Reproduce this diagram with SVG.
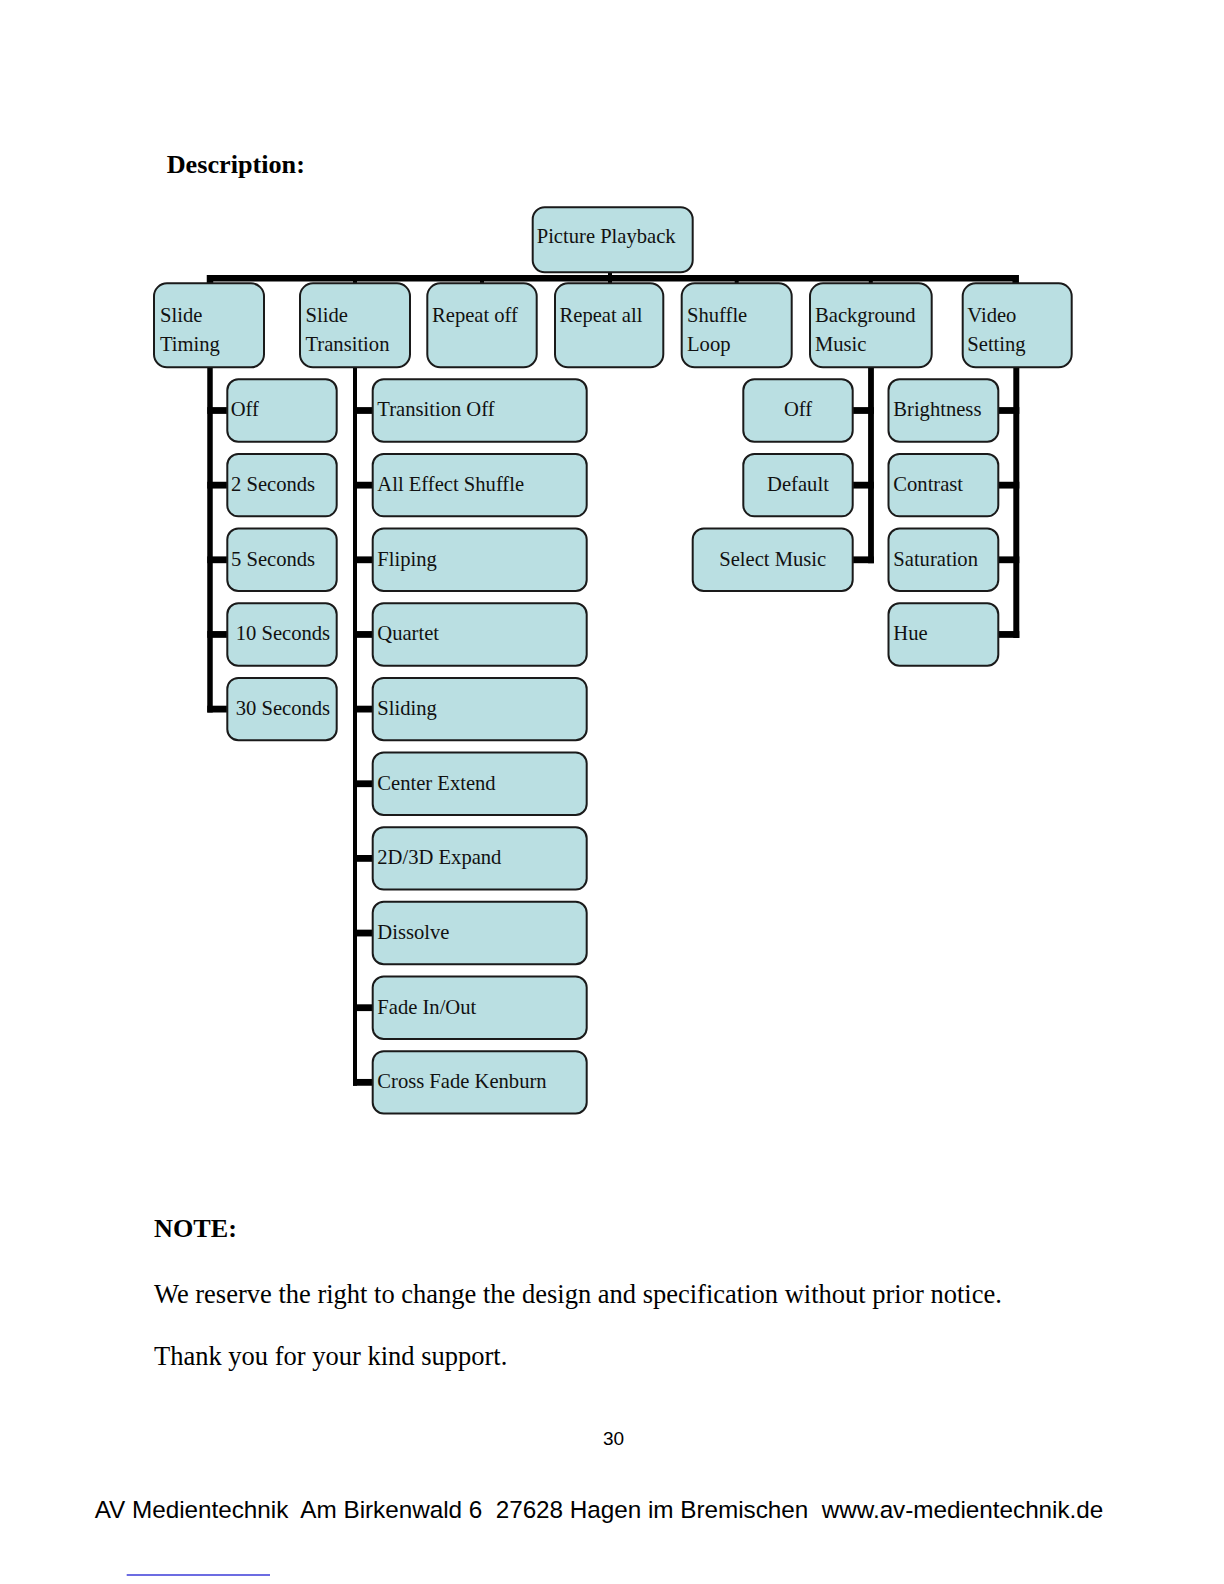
<svg xmlns="http://www.w3.org/2000/svg" width="1224" height="1584" viewBox="0 0 1224 1584">
<style>
.box{fill:#badfe2;stroke:#1a1a1a;stroke-width:2}
.t{font-family:"Liberation Serif","Times New Roman",serif;font-size:20.6px;fill:#111}
.c{text-anchor:middle}
.cn{stroke:#000;fill:none;stroke-linecap:butt}
.h{font-family:"Liberation Serif","Times New Roman",serif;font-weight:bold;font-size:26.2px;fill:#000}
.p{font-family:"Liberation Serif","Times New Roman",serif;font-size:26.5px;fill:#000}
.s{font-family:"Liberation Sans",Arial,sans-serif;fill:#000;white-space:pre}
</style>
<rect x="0" y="0" width="1224" height="1584" fill="#fff"/>
<text class="h" x="166.7" y="173.3">Description:</text>

<g id="connectors" class="cn">
  <path d="M210 284 V278.3 H1015.7 V284" stroke-width="6.5" stroke-linejoin="miter"/>
  <line x1="610" y1="272" x2="610" y2="284" stroke-width="4"/>
  <line x1="355" y1="278" x2="355" y2="284" stroke-width="4"/>
  <line x1="482" y1="278" x2="482" y2="284" stroke-width="4"/>
  <line x1="736.7" y1="278" x2="736.7" y2="284" stroke-width="4"/>
  <line x1="870.8" y1="278" x2="870.8" y2="284" stroke-width="4"/>
  <!-- Slide Timing -->
  <line x1="210" y1="367" x2="210" y2="712.4" stroke-width="5.5"/>
  <g stroke-width="6.8">
    <line x1="207.3" y1="410.5" x2="227.3" y2="410.5"/>
    <line x1="207.3" y1="485.15" x2="227.3" y2="485.15"/>
    <line x1="207.3" y1="559.8" x2="227.3" y2="559.8"/>
    <line x1="207.3" y1="634.45" x2="227.3" y2="634.45"/>
    <line x1="207.3" y1="709.1" x2="227.3" y2="709.1"/>
  </g>
  <!-- Slide Transition -->
  <line x1="355" y1="367" x2="355" y2="1085.7" stroke-width="4"/>
  <g stroke-width="6.8">
    <line x1="353" y1="410.5" x2="372.7" y2="410.5"/>
    <line x1="353" y1="485.15" x2="372.7" y2="485.15"/>
    <line x1="353" y1="559.8" x2="372.7" y2="559.8"/>
    <line x1="353" y1="634.45" x2="372.7" y2="634.45"/>
    <line x1="353" y1="709.1" x2="372.7" y2="709.1"/>
    <line x1="353" y1="783.75" x2="372.7" y2="783.75"/>
    <line x1="353" y1="858.4" x2="372.7" y2="858.4"/>
    <line x1="353" y1="933.05" x2="372.7" y2="933.05"/>
    <line x1="353" y1="1007.7" x2="372.7" y2="1007.7"/>
    <line x1="353" y1="1082.35" x2="372.7" y2="1082.35"/>
  </g>
  <!-- Background Music -->
  <line x1="871" y1="367" x2="871" y2="563.2" stroke-width="5.8"/>
  <g stroke-width="6.8">
    <line x1="852.7" y1="410.5" x2="873.9" y2="410.5"/>
    <line x1="852.7" y1="485.15" x2="873.9" y2="485.15"/>
    <line x1="852.7" y1="559.8" x2="873.9" y2="559.8"/>
  </g>
  <!-- Video Setting -->
  <line x1="1016.3" y1="367" x2="1016.3" y2="637.9" stroke-width="6"/>
  <g stroke-width="6.8">
    <line x1="998.3" y1="410.5" x2="1019.3" y2="410.5"/>
    <line x1="998.3" y1="485.15" x2="1019.3" y2="485.15"/>
    <line x1="998.3" y1="559.8" x2="1019.3" y2="559.8"/>
    <line x1="998.3" y1="634.45" x2="1019.3" y2="634.45"/>
  </g>
</g>

<g id="picture-playback"><rect class="box" x="532.7" y="207.3" width="160" height="65" rx="12"/><text class="t" x="536.7" y="243.3">Picture Playback</text></g>

<g id="slide-timing"><rect class="box" x="154" y="283.3" width="110" height="84" rx="13"/><text class="t" x="160" y="321.7">Slide</text><text class="t" x="160" y="350.5">Timing</text></g>
<g id="slide-transition"><rect class="box" x="300" y="283.3" width="110" height="84" rx="13"/><text class="t" x="305.5" y="321.7">Slide</text><text class="t" x="305.5" y="350.5">Transition</text></g>
<g id="repeat-off"><rect class="box" x="427.3" y="283.3" width="109.4" height="84" rx="13"/><text class="t" x="432" y="321.7">Repeat off</text></g>
<g id="repeat-all"><rect class="box" x="555" y="283.3" width="108.3" height="84" rx="13"/><text class="t" x="559.5" y="321.7">Repeat all</text></g>
<g id="shuffle-loop"><rect class="box" x="681.7" y="283.3" width="110" height="84" rx="13"/><text class="t" x="687" y="321.7">Shuffle</text><text class="t" x="687" y="350.5">Loop</text></g>
<g id="background-music"><rect class="box" x="810" y="283.3" width="121.7" height="84" rx="13"/><text class="t" x="815" y="321.7">Background</text><text class="t" x="815" y="350.5">Music</text></g>
<g id="video-setting"><rect class="box" x="962.7" y="283.3" width="109" height="84" rx="13"/><text class="t" x="967.3" y="321.7">Video</text><text class="t" x="967.3" y="350.5">Setting</text></g>

<g id="st-off"><rect class="box" x="227.3" y="379.3" width="109.4" height="62.4" rx="11"/><text class="t" x="230.7" y="416.3">Off</text></g>
<g id="st-2s"><rect class="box" x="227.3" y="453.95" width="109.4" height="62.4" rx="11"/><text class="t" x="231" y="490.95">2 Seconds</text></g>
<g id="st-5s"><rect class="box" x="227.3" y="528.6" width="109.4" height="62.4" rx="11"/><text class="t" x="231" y="565.6">5 Seconds</text></g>
<g id="st-10s"><rect class="box" x="227.3" y="603.25" width="109.4" height="62.4" rx="11"/><text class="t" x="235.7" y="640.25">10 Seconds</text></g>
<g id="st-30s"><rect class="box" x="227.3" y="677.9" width="109.4" height="62.4" rx="11"/><text class="t" x="235.7" y="714.9">30 Seconds</text></g>

<g id="tr-off"><rect class="box" x="372.7" y="379.3" width="214" height="62.4" rx="11"/><text class="t" x="377.3" y="416.3">Transition Off</text></g>
<g id="tr-shuffle"><rect class="box" x="372.7" y="453.95" width="214" height="62.4" rx="11"/><text class="t" x="377.3" y="490.95">All Effect Shuffle</text></g>
<g id="tr-fliping"><rect class="box" x="372.7" y="528.6" width="214" height="62.4" rx="11"/><text class="t" x="377.3" y="565.6">Fliping</text></g>
<g id="tr-quartet"><rect class="box" x="372.7" y="603.25" width="214" height="62.4" rx="11"/><text class="t" x="377.3" y="640.25">Quartet</text></g>
<g id="tr-sliding"><rect class="box" x="372.7" y="677.9" width="214" height="62.4" rx="11"/><text class="t" x="377.3" y="714.9">Sliding</text></g>
<g id="tr-center"><rect class="box" x="372.7" y="752.55" width="214" height="62.4" rx="11"/><text class="t" x="377.3" y="789.55">Center Extend</text></g>
<g id="tr-expand"><rect class="box" x="372.7" y="827.2" width="214" height="62.4" rx="11"/><text class="t" x="377.3" y="864.2">2D/3D Expand</text></g>
<g id="tr-dissolve"><rect class="box" x="372.7" y="901.85" width="214" height="62.4" rx="11"/><text class="t" x="377.3" y="938.85">Dissolve</text></g>
<g id="tr-fade"><rect class="box" x="372.7" y="976.5" width="214" height="62.4" rx="11"/><text class="t" x="377.3" y="1013.5">Fade In/Out</text></g>
<g id="tr-kenburn"><rect class="box" x="372.7" y="1051.15" width="214" height="62.4" rx="11"/><text class="t" x="377.3" y="1088.15">Cross Fade Kenburn</text></g>

<g id="bm-off"><rect class="box" x="743.3" y="379.3" width="109.4" height="62.4" rx="11"/><text class="t c" x="798" y="416.3">Off</text></g>
<g id="bm-default"><rect class="box" x="743.3" y="453.95" width="109.4" height="62.4" rx="11"/><text class="t c" x="798" y="490.95">Default</text></g>
<g id="bm-select"><rect class="box" x="692.7" y="528.6" width="160" height="62.4" rx="11"/><text class="t c" x="772.7" y="565.6">Select Music</text></g>

<g id="vs-brightness"><rect class="box" x="888.5" y="379.3" width="109.8" height="62.4" rx="11"/><text class="t" x="893.3" y="416.3">Brightness</text></g>
<g id="vs-contrast"><rect class="box" x="888.5" y="453.95" width="109.8" height="62.4" rx="11"/><text class="t" x="893.3" y="490.95">Contrast</text></g>
<g id="vs-saturation"><rect class="box" x="888.5" y="528.6" width="109.8" height="62.4" rx="11"/><text class="t" x="893.3" y="565.6">Saturation</text></g>
<g id="vs-hue"><rect class="box" x="888.5" y="603.25" width="109.8" height="62.4" rx="11"/><text class="t" x="893.3" y="640.25">Hue</text></g>

<text class="h" x="154" y="1236.7">NOTE:</text>
<text class="p" x="154" y="1303.3">We reserve the right to change the design and specification without prior notice.</text>
<text class="p" x="154" y="1365">Thank you for your kind support.</text>
<text class="s" x="603" y="1445" font-size="19">30</text>
<text class="s" x="94.7" y="1518.3" font-size="24.3" textLength="1008.6" lengthAdjust="spacing" xml:space="preserve">AV Medientechnik  Am Birkenwald 6  27628 Hagen im Bremischen  www.av-medientechnik.de</text>
<line x1="126.7" y1="1575" x2="270" y2="1575" stroke="#3b3bd8" stroke-width="1.6"/>
</svg>
